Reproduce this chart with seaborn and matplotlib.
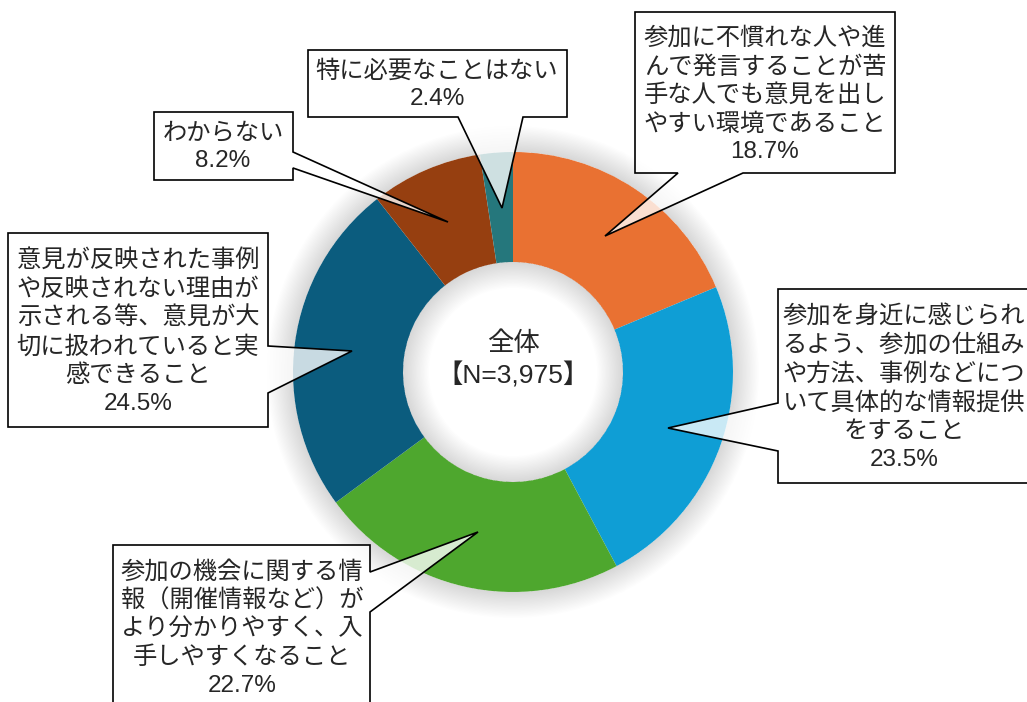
import numpy as np
import matplotlib
matplotlib.use('Agg')
import matplotlib.pyplot as plt
from matplotlib.patches import Polygon, Wedge
import seaborn as sns

sns.set_theme(style='white')
plt.rcParams['font.family'] = ['Liberation Sans', 'Noto Sans CJK JP', 'DejaVu Sans']

# data (clockwise from 12 o'clock)
labels = [
    '参加に不慣れな人や進\nんで発言することが苦\n手な人でも意見を出し\nやすい環境であること',
    '参加を身近に感じられ\nるよう、参加の仕組み\nや方法、事例などにつ\nいて具体的な情報提供\nをすること',
    '参加の機会に関する情\n報（開催情報など）が\nより分かりやすく、入\n手しやすくなること',
    '意見が反映された事例\nや反映されない理由が\n示される等、意見が大\n切に扱われていると実\n感できること',
    'わからない',
    '特に必要なことはない',
]
values = [18.7, 23.5, 22.7, 24.5, 8.2, 2.4]
colors = ['#E97132', '#0F9ED5', '#4EA72E', '#0B5C7E', '#963F10', '#25777C']
center_label = '全体\n【N=3,975】'

W, H = 1027, 702
fig = plt.figure(figsize=(W / 100, H / 100), dpi=100)
ax = fig.add_axes([0, 0, 1, 1])

def Y(y):
    return H - y

cx, cy, R, r = 513, Y(372), 220, 110

# soft shadow around the ring
n = 20
for d in np.linspace(1, 26, n):
    ax.add_patch(Wedge((cx, cy), R + d, 0, 360, width=d, facecolor='black',
                       edgecolor='none', alpha=0.009, zorder=0))

ax.pie(values, colors=colors, startangle=90, counterclock=False, radius=R,
       center=(cx, cy), wedgeprops=dict(width=R - r, edgecolor='none', zorder=1))

for d in np.linspace(1, 26, n):
    ax.add_patch(Wedge((cx, cy), r, 0, 360, width=d, facecolor='black',
                       edgecolor='none', alpha=0.009, zorder=2))

ax.text(cx, Y(360), center_label, ha='center', va='center', fontsize=19,
        linespacing=1.3, zorder=5)

# callout shapes (pixel coordinates, y down)
callouts = [
    [(635, 12), (895, 12), (895, 173), (743, 173), (605, 236), (678, 173), (635, 173)],
    [(778, 289), (1032, 289), (1032, 483), (778, 483), (778, 451), (668, 428), (778, 403)],
    [(113, 545), (370, 545), (370, 572), (478, 532), (370, 612), (370, 712), (113, 712)],
    [(8, 233), (268, 233), (268, 346), (352, 351), (268, 393), (268, 427), (8, 427)],
    [(154, 112), (293, 112), (293, 152), (448, 222), (293, 168), (293, 180), (154, 180)],
    [(308, 50), (567, 50), (567, 117), (523, 117), (502, 208), (458, 117), (308, 117)],
]
text_pos = [(765, 95), (904, 388), (242, 629), (138, 332), (223, 147), (437, 85)]

for pts, (tx, ty), lab, v in zip(callouts, text_pos, labels, values):
    ax.add_patch(Polygon([(x, Y(y)) for x, y in pts], closed=True,
                         facecolor=(1, 1, 1, 0.78), edgecolor='black',
                         linewidth=1.2, joinstyle='miter', zorder=3))
    ax.text(tx, Y(ty), f'{lab}\n{v:.1f}%', ha='center', va='center',
            fontsize=17.5, linespacing=1.34, zorder=5)

ax.set_xlim(0, W)
ax.set_ylim(0, H)
ax.set_aspect('auto')
ax.axis('off')
fig.savefig('out.png', dpi=100)
